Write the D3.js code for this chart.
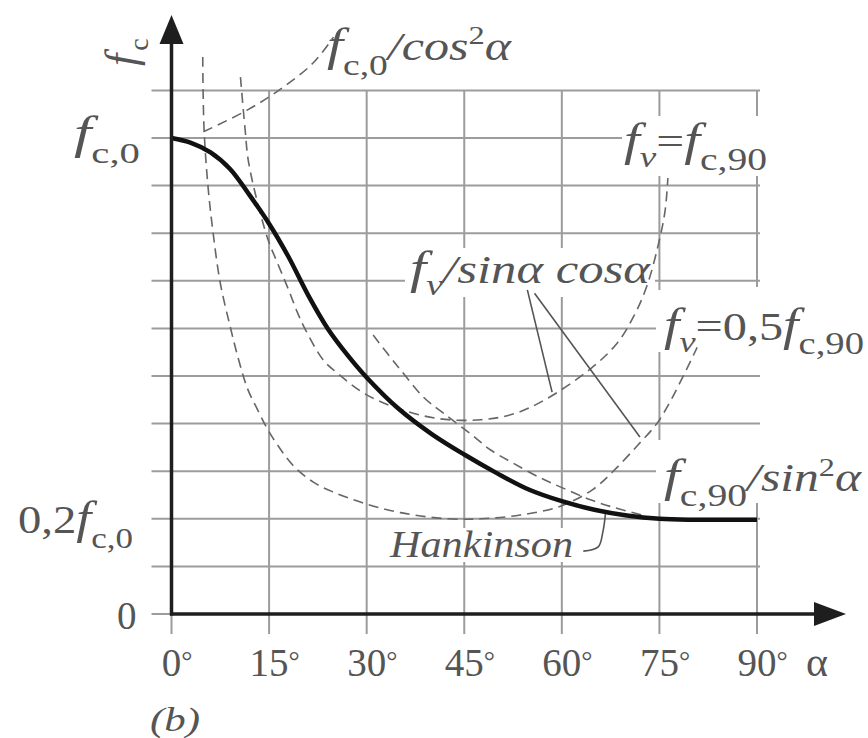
<!DOCTYPE html>
<html>
<head>
<meta charset="utf-8">
<script src="https://cdn.jsdelivr.net/npm/d3@7/dist/d3.min.js"></script>
<style>
  body { margin: 0; background: #fff; }
  svg text { font-family: "Liberation Serif", "Times New Roman", Times, serif; fill: #555; }
</style>
</head>
<body>
<svg id="chart" width="868" height="738"></svg>
<script>
// Grain angle α (degrees) on x, strength as a fraction of f_c,0 on y.
const angleTicks = [0, 15, 30, 45, 60, 75, 90];
const angleTickLabels = ["0", "15", "30", "45", "60", "75", "90"];
const valueGrid = [0, 0.1, 0.2, 0.3, 0.4, 0.5, 0.6, 0.7, 0.8, 0.9, 1.0, 1.1];

// Hankinson formula (solid)
const hankinsonAngle = [0, 3, 6, 9, 12, 15, 18, 21, 24, 27, 30, 35, 40, 45, 50, 55, 60, 65, 70, 75, 80, 85, 90];
const hankinsonValue = [1.0, 0.99, 0.97, 0.935, 0.88, 0.82, 0.75, 0.67, 0.60, 0.545, 0.497, 0.43, 0.378, 0.335, 0.296, 0.261, 0.237, 0.219, 0.207, 0.2, 0.198, 0.198, 0.198];

// f_c,0 / cos²α
const cosAngle = [4.9, 11.7, 17.2, 21.8, 24.9];
const cosValue = [1.013, 1.059, 1.107, 1.158, 1.212];

// f_v / (sinα cosα) with f_v = f_c,90
const shearFullAngle = [10.6, 11.3, 11.9, 14.7, 16.3, 18.0, 19.4, 20.6, 23.3, 25.5, 29.8, 35.2, 41.3, 47.5, 52.5, 57.4, 64.4, 68.5, 71.0, 73.1, 75.1, 75.9, 76.3];
const shearFullValue = [1.128, 1.02, 0.945, 0.792, 0.737, 0.681, 0.632, 0.597, 0.534, 0.506, 0.462, 0.43, 0.41, 0.408, 0.42, 0.45, 0.515, 0.569, 0.624, 0.69, 0.792, 0.85, 0.916];

// f_v / (sinα cosα) with f_v = 0,5 f_c,90
const shearHalfAngle = [4.8, 5.0, 5.6, 6.4, 7.5, 9.0, 10.3, 11.7, 13.2, 14.7, 16.3, 18.7, 21.8, 24.9, 29.5, 35.2, 42.4, 47.5, 53.6, 59.7, 64.8, 67.9, 71.7, 74.6, 76.6, 78.6, 80.8];
const shearHalfValue = [1.17, 1.02, 0.90, 0.80, 0.695, 0.605, 0.535, 0.473, 0.43, 0.39, 0.355, 0.312, 0.277, 0.256, 0.233, 0.213, 0.2, 0.2, 0.208, 0.226, 0.262, 0.300, 0.355, 0.40, 0.445, 0.498, 0.56];

// f_c,90 / sin²α
const sinAngle = [31.0, 33.6, 35.2, 38.7, 41.8, 46.2, 49.0, 52.5, 56.7, 60.1, 64.4, 68.2, 72.3];
const sinValue = [0.586, 0.54, 0.513, 0.456, 0.422, 0.376, 0.345, 0.317, 0.286, 0.265, 0.24, 0.223, 0.208];

// leader lines, as [angle, value] pairs
const leaderShearA = [[54.7, 0.681], [58.5, 0.466]];
const leaderShearB = [[55.8, 0.674], [72.0, 0.372]];
const leaderHankinson = [[63.3, 0.132], [65.6, 0.141], [66.3, 0.172], [66.7, 0.21]];

const svg = d3.select("#chart");
const x = d3.scaleLinear().domain([0, 90]).range([171.5, 757]);
const y = d3.scaleLinear().domain([0, 1.1]).range([614, 90.4]);

const zip = (a, b) => a.map((d, i) => [d, b[i]]);
const line = d3.line().x(d => x(d[0])).y(d => y(d[1])).curve(d3.curveCatmullRom.alpha(0.5));
const straight = d3.line().x(d => x(d[0])).y(d => y(d[1]));

const gridColor = "#9c9c9c";

// vertical grid lines (run a little below the α axis)
svg.append("g").selectAll("line").data(angleTicks).join("line")
  .attr("x1", d => x(d)).attr("x2", d => x(d))
  .attr("y1", y(1.1)).attr("y2", y(0) + 20)
  .attr("stroke", gridColor).attr("stroke-width", 2);

// break in the 90° line beside the right-hand labels
svg.append("rect").attr("x", x(90) - 4).attr("y", 287).attr("width", 8).attr("height", 215).attr("fill", "#fff");

// horizontal grid lines (run a little left of the f_c axis)
svg.append("g").selectAll("line").data(valueGrid).join("line")
  .attr("x1", x(0) - 20).attr("x2", x(90) + 3)
  .attr("y1", d => y(d)).attr("y2", d => y(d))
  .attr("stroke", gridColor).attr("stroke-width", 2);

// white backing behind the curve labels
const backs = [
  [622, 116, 153, 60],
  [405, 248, 250, 49],
  [656, 290, 210, 62],
  [656, 440, 210, 63],
  [385, 528, 196, 34]
];
svg.append("g").selectAll("rect").data(backs).join("rect")
  .attr("x", d => d[0]).attr("y", d => d[1]).attr("width", d => d[2]).attr("height", d => d[3])
  .attr("fill", "#fff");

// dashed limit curves
const dashed = [
  zip(cosAngle, cosValue),
  zip(shearFullAngle, shearFullValue),
  zip(shearHalfAngle, shearHalfValue),
  zip(sinAngle, sinValue)
];
svg.append("g").selectAll("path").data(dashed).join("path")
  .attr("d", line).attr("fill", "none")
  .attr("stroke", "#666").attr("stroke-width", 1.6).attr("stroke-dasharray", "10,6");

// leader lines
svg.append("path").attr("d", straight(leaderShearA)).attr("fill", "none").attr("stroke", "#555").attr("stroke-width", 1.6);
svg.append("path").attr("d", straight(leaderShearB)).attr("fill", "none").attr("stroke", "#555").attr("stroke-width", 1.6);
svg.append("path").attr("d", line(leaderHankinson)).attr("fill", "none").attr("stroke", "#555").attr("stroke-width", 1.6);

// Hankinson curve
svg.append("path").attr("d", line(zip(hankinsonAngle, hankinsonValue)))
  .attr("fill", "none").attr("stroke", "#111").attr("stroke-width", 4.5).attr("stroke-linejoin", "round");

// axes with arrow heads
const axisColor = "#1e1e1e";
svg.append("line").attr("x1", x(0)).attr("x2", x(0)).attr("y1", y(0) + 1.5).attr("y2", 40)
  .attr("stroke", axisColor).attr("stroke-width", 3.5);
svg.append("line").attr("x1", x(0) - 1.5).attr("x2", 820).attr("y1", y(0)).attr("y2", y(0))
  .attr("stroke", axisColor).attr("stroke-width", 3.5);
svg.append("path").attr("d", `M${x(0)},15 L${x(0) - 12},44 L${x(0) + 12},44 Z`).attr("fill", axisColor);
svg.append("path").attr("d", `M846,${y(0)} L814,${y(0) - 12} L814,${y(0) + 12} Z`).attr("fill", axisColor);

// text with sub/superscript pieces
function label(spec) {
  const t = svg.append("text").attr("x", spec.x).attr("y", spec.y);
  if (spec.transform) t.attr("transform", spec.transform);
  let prev = 0;
  spec.parts.forEach(p => {
    const shift = p.shift || 0;
    t.append("tspan").text(p.t)
      .attr("font-size", p.size)
      .attr("font-style", p.italic ? "italic" : "normal")
      .attr("dx", p.dx || 0)
      .attr("dy", shift - prev);
    prev = shift;
  });
  if (spec.len) t.attr("textLength", spec.len).attr("lengthAdjust", "spacingAndGlyphs");
  return t;
}

// α tick labels
angleTicks.forEach((a, i) => {
  const t = svg.append("text").attr("x", x(a)).attr("y", 676)
    .attr("font-size", 39).attr("text-anchor", "middle").text(angleTickLabels[i]);
  const w = t.node().getComputedTextLength();
  svg.append("text").attr("x", x(a) + w / 2).attr("y", 670)
    .attr("font-size", 28).text("°");
});
label({ x: 806, y: 676, parts: [{ t: "α", size: 42 }] });

// value labels
label({ x: 117, y: 629, parts: [{ t: "0", size: 39 }] });
label({ x: 74, y: 148, len: 66, parts: [{ t: "f", size: 46, italic: true }, { t: "c,0", size: 30, shift: 15 }] });
label({ x: 18, y: 533, len: 115, parts: [{ t: "0,2", size: 40 }, { t: "f", size: 46, italic: true }, { t: "c,0", size: 30, shift: 15 }] });

// vertical axis title
label({ x: 0, y: 0, transform: "translate(136,66) rotate(-90)",
  parts: [{ t: "f", size: 44, italic: true }, { t: "c", size: 28, shift: 12, dx: 3 }] });

// curve labels
label({ x: 327, y: 60, len: 184, parts: [
  { t: "f", size: 46, italic: true }, { t: "c,0", size: 30, shift: 15 },
  { t: "/cos", size: 40, italic: true }, { t: "2", size: 26, shift: -16 }, { t: "α", size: 40, italic: true }] });
label({ x: 624, y: 155, len: 143, parts: [
  { t: "f", size: 46, italic: true }, { t: "v", size: 30, italic: true, shift: 12 },
  { t: "=", size: 40 }, { t: "f", size: 46, italic: true }, { t: "c,90", size: 32, shift: 15 }] });
label({ x: 410, y: 283, len: 240, parts: [
  { t: "f", size: 46, italic: true }, { t: "v", size: 30, italic: true, shift: 12 },
  { t: "/sinα cosα", size: 40, italic: true }] });
label({ x: 664, y: 340, len: 200, parts: [
  { t: "f", size: 46, italic: true }, { t: "v", size: 30, italic: true, shift: 12 },
  { t: "=0,5", size: 40 }, { t: "f", size: 46, italic: true }, { t: "c,90", size: 32, shift: 14 }] });
label({ x: 664, y: 491, len: 197, parts: [
  { t: "f", size: 46, italic: true }, { t: "c,90", size: 32, shift: 15 },
  { t: "/sin", size: 40, italic: true }, { t: "2", size: 26, shift: -15 }, { t: "α", size: 40, italic: true }] });
label({ x: 390, y: 557, len: 183, parts: [{ t: "Hankinson", size: 38, italic: true }] });

// panel tag
label({ x: 150, y: 731, len: 50, parts: [{ t: "(b)", size: 34, italic: true }] });
</script>
</body>
</html>
